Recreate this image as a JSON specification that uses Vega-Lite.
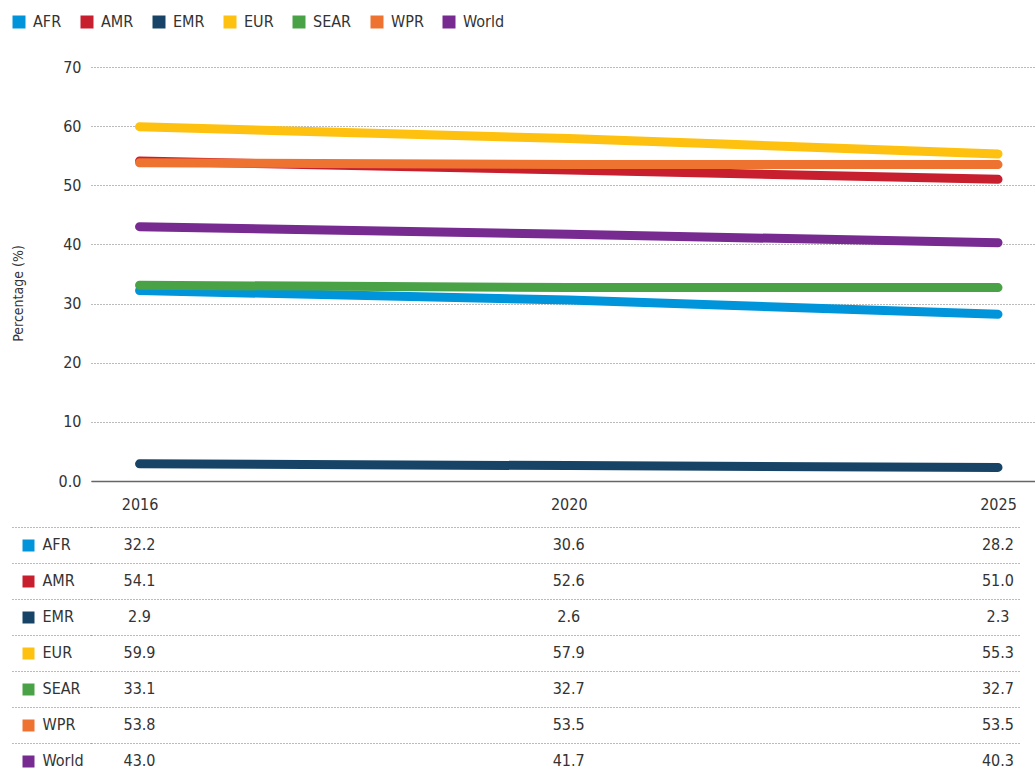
{
  "$schema": "https://vega.github.io/schema/vega-lite/v6.json",
  "background": "white",
  "padding": {"left": 10, "top": 14, "right": 0, "bottom": 0},
  "config": {
    "font": "DejaVu Sans Condensed, Roboto, sans-serif",
    "view": {"stroke": null},
    "axis": {"labelColor": "#333333", "titleColor": "#333333", "labelFont": "DejaVu Sans Condensed, Roboto, sans-serif", "titleFont": "DejaVu Sans Condensed, Roboto, sans-serif"},
    "legend": {"labelFont": "DejaVu Sans Condensed, Roboto, sans-serif", "labelColor": "#333333"},
    "text": {"font": "DejaVu Sans Condensed, Roboto, sans-serif"}
  },
  "data": {
    "values": [
      {"region": "AFR", "year": "2016", "value": 32.2},
      {"region": "AFR", "year": "2020", "value": 30.6},
      {"region": "AFR", "year": "2025", "value": 28.2},
      {"region": "AMR", "year": "2016", "value": 54.1},
      {"region": "AMR", "year": "2020", "value": 52.6},
      {"region": "AMR", "year": "2025", "value": 51.0},
      {"region": "EMR", "year": "2016", "value": 2.9},
      {"region": "EMR", "year": "2020", "value": 2.6},
      {"region": "EMR", "year": "2025", "value": 2.3},
      {"region": "EUR", "year": "2016", "value": 59.9},
      {"region": "EUR", "year": "2020", "value": 57.9},
      {"region": "EUR", "year": "2025", "value": 55.3},
      {"region": "SEAR", "year": "2016", "value": 33.1},
      {"region": "SEAR", "year": "2020", "value": 32.7},
      {"region": "SEAR", "year": "2025", "value": 32.7},
      {"region": "WPR", "year": "2016", "value": 53.8},
      {"region": "WPR", "year": "2020", "value": 53.5},
      {"region": "WPR", "year": "2025", "value": 53.5},
      {"region": "World", "year": "2016", "value": 43.0},
      {"region": "World", "year": "2020", "value": 41.7},
      {"region": "World", "year": "2025", "value": 40.3}
    ]
  },
  "spacing": 14,
  "vconcat": [
    {
      "width": 945,
      "height": 414,
      "mark": {"type": "line", "strokeWidth": 9, "strokeCap": "round", "strokeJoin": "round"},
      "encoding": {
        "x": {
          "field": "year", "type": "ordinal",
          "scale": {"type": "point", "padding": 0.1008, "align": 0.561},
          "axis": {"title": null, "labelAngle": 0, "domain": true, "domainColor": "#666666", "domainWidth": 1.5, "ticks": false, "grid": false, "labelPadding": 15, "labelFontSize": 16}
        },
        "y": {
          "field": "value", "type": "quantitative",
          "scale": {"domain": [0, 70], "nice": false},
          "axis": {"title": "Percentage (%)", "titleFontSize": 14, "titleFontWeight": "normal", "titlePadding": 33, "titleY": 226, "values": [0, 10, 20, 30, 40, 50, 60, 70], "labelExpr": "datum.value === 0 ? '0.0' : datum.label", "domain": false, "ticks": false, "grid": true, "gridDash": [1, 2], "gridColor": "#777777", "gridWidth": 1, "labelPadding": 10, "labelFontSize": 16}
        },
        "color": {
          "field": "region", "type": "nominal",
          "scale": {"domain": ["AFR", "AMR", "EMR", "EUR", "SEAR", "WPR", "World"], "range": ["#0095da", "#c81f2e", "#174466", "#fec110", "#4aa247", "#ee7230", "#772a8f"]},
          "legend": {"orient": "none", "legendX": -80, "legendY": -53, "direction": "horizontal", "title": null, "symbolType": "square", "symbolSize": 36, "symbolStrokeWidth": 7, "symbolOpacity": 1, "labelFontSize": 16, "columnPadding": 8, "labelOffset": 6}
        }
      }
    },
    {
      "width": 930,
      "height": 252,
      "layer": [
        {
          "mark": {"type": "text", "fontSize": 16, "color": "#333333"},
          "encoding": {
            "x": {"field": "year", "type": "ordinal", "scale": {"type": "point", "padding": 0.0833, "align": 0.678}, "axis": null},
            "y": {
              "field": "region", "type": "nominal",
              "scale": {"type": "band", "domain": ["AFR", "AMR", "EMR", "EUR", "SEAR", "WPR", "World"], "paddingInner": 0, "paddingOuter": 0},
              "axis": {"orient": "left", "title": null, "domain": false, "grid": false, "ticks": true, "tickSize": 12, "tickWidth": 12, "tickColor": {"expr": "datum.value === 'AFR' ? '#0095da' : datum.value === 'AMR' ? '#c81f2e' : datum.value === 'EMR' ? '#174466' : datum.value === 'EUR' ? '#fec110' : datum.value === 'SEAR' ? '#4aa247' : datum.value === 'WPR' ? '#ee7230' : '#772a8f'"}, "labelAlign": "left", "labelPadding": -20, "offset": 57, "labelFontSize": 16}
            },
            "text": {"field": "value", "type": "quantitative", "format": ".1f"}
          }
        },
        {
          "mark": {"type": "text", "opacity": 0},
          "encoding": {
            "x": {"field": "year", "type": "ordinal", "axis": null},
            "y": {
              "field": "region", "type": "nominal",
              "axis": {"orient": "left", "title": null, "domain": false, "labels": false, "bandPosition": 0, "ticks": true, "tickSize": 80, "tickDash": [1, 2], "tickColor": "#777777", "tickWidth": 1, "grid": true, "gridDash": [1, 2], "gridColor": "#777777", "gridWidth": 1}
            },
            "text": {"field": "value", "type": "quantitative", "format": ".1f"}
          }
        }
      ],
      "resolve": {"axis": {"y": "independent"}}
    }
  ]
}
